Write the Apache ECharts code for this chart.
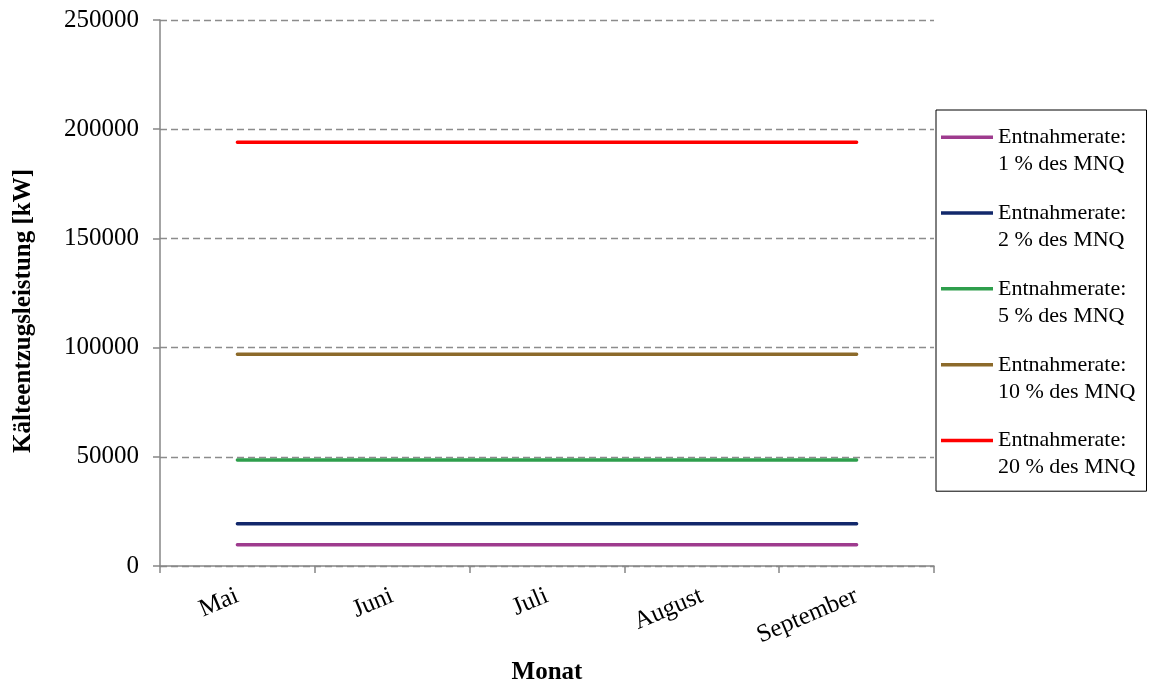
<!DOCTYPE html>
<html><head><meta charset="utf-8">
<script src="https://cdn.jsdelivr.net/npm/echarts@6/dist/echarts.min.js"></script>
<style>html,body{margin:0;padding:0;background:#fff}#c{width:1153px;height:683px}</style>
</head><body><div id="c"></div>
<script>
const months = ['Mai', 'Juni', 'Juli', 'August', 'September'];
const seriesNames = ['Entnahmerate:\n1 % des MNQ', 'Entnahmerate:\n2 % des MNQ', 'Entnahmerate:\n5 % des MNQ', 'Entnahmerate:\n10 % des MNQ', 'Entnahmerate:\n20 % des MNQ'];
const rate1 = [9700, 9700, 9700, 9700, 9700];
const rate2 = [19400, 19400, 19400, 19400, 19400];
const rate5 = [48500, 48500, 48500, 48500, 48500];
const rate10 = [97000, 97000, 97000, 97000, 97000];
const rate20 = [194000, 194000, 194000, 194000, 194000];
const colors = ['#9E3B8E', '#12286B', '#2E9E4C', '#8C6A2A', '#FF0000'];
const allData = [rate1, rate2, rate5, rate10, rate20];

const font = 'Liberation Serif, Times New Roman, serif';
const chart = echarts.init(document.getElementById('c'));
chart.setOption({
  animation: false,
  textStyle: {fontFamily: font},
  grid: {left: 160, right: 219, top: 20, bottom: 117, outerBoundsMode: 'none', containLabel: false},
  legend: {
    orient: 'vertical',
    left: 936, top: 110,
    padding: [14, 11, 10, 5],
    borderColor: '#000', borderWidth: 1,
    itemWidth: 52, itemHeight: 31, itemGap: 21.8,
    icon: 'path://M0,0L52,0L52,3.5L0,3.5Z M0,31L0.01,31L0.01,30.99Z',
    itemStyle: {borderWidth: 0},
    textStyle: {fontFamily: font, fontSize: 22, color: '#000', lineHeight: 27},
    data: seriesNames
  },
  xAxis: {
    type: 'category',
    data: months,
    boundaryGap: true,
    name: 'Monat', nameLocation: 'middle', nameGap: 94,
    nameTextStyle: {fontFamily: font, fontSize: 25, fontWeight: 'bold', color: '#000'},
    axisLine: {lineStyle: {color: '#868686', width: 1.5}},
    axisTick: {show: true, length: 7, lineStyle: {color: '#868686', width: 1.5}},
    axisLabel: {fontFamily: font, fontSize: 25, color: '#000', rotate: 23, margin: 29, interval: 0},
    splitLine: {show: false}
  },
  yAxis: {
    type: 'value',
    min: 0, max: 250000, interval: 50000,
    name: 'Kälteentzugsleistung [kW]', nameLocation: 'middle', nameGap: 124,
    nameTextStyle: {fontFamily: font, fontSize: 25, fontWeight: 'bold', color: '#000', padding: [0, 36, 0, 0]},
    axisLine: {show: true, lineStyle: {color: '#868686', width: 1.5}},
    axisTick: {show: true, length: 7, lineStyle: {color: '#868686', width: 1.5}},
    axisLabel: {fontFamily: font, fontSize: 25, color: '#000', margin: 21, formatter: v => String(v)},
    splitLine: {show: true, lineStyle: {color: '#8c8c8c', width: 1.3, type: [7, 4]}}
  },
  series: allData.map((d, i) => ({
    name: seriesNames[i],
    type: 'line',
    data: d,
    symbol: 'none',
    color: colors[i],
    lineStyle: {width: 3.5, color: colors[i], cap: 'round'}
  }))
});
</script></body></html>
